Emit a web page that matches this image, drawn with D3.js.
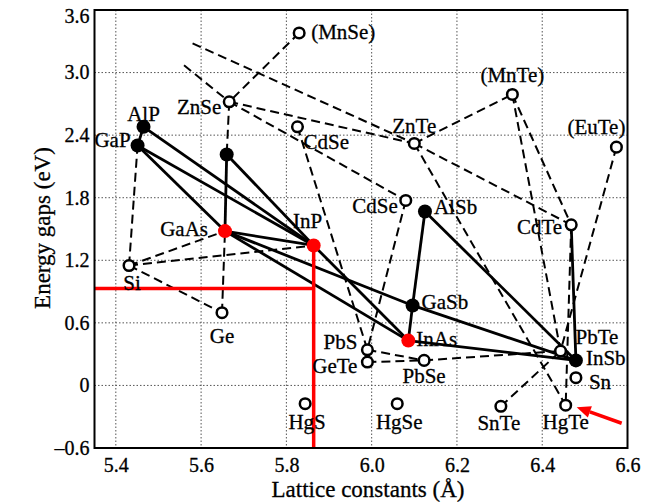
<!DOCTYPE html>
<html lang="en">
<head>
<meta charset="utf-8">
<title>Energy gaps vs lattice constants</title>
<script src="https://cdn.jsdelivr.net/npm/d3@7"></script>
<style>
  body { margin: 0; background: #fff; }
  text { font-family: "Liberation Serif", "Times New Roman", serif; fill: #000; stroke: #000; stroke-width: 0.3px; }
  .grid line { stroke: #555; stroke-width: 1; stroke-dasharray: 1.5,2; }
  .dashed { stroke: #000; stroke-width: 2; stroke-dasharray: 9,5; fill: none; }
  .solid { stroke: #000; stroke-width: 2.8; fill: none; }
  .axis text { font-size: 20px; }
  .lbl { font-size: 21px; }
  .title { font-size: 23px; }
</style>
</head>
<body>
<div class="chart"></div>
<script>
// materials: name, label shown, lattice constant (A), gap (eV), marker kind
var names   = ["MnSe","ZnSe","CdS","MnTe","ZnTe","EuTe","CdTe","AlP","GaP","AlAs","GaAs","InP","Si","Ge",
               "CdSe","AlSb","GaSb","InAs","PbS","GeTe","PbSe","PbTe","InSb","Sn","HgS","HgSe","SnTe","HgTe"];
var labels  = ["(MnSe)","ZnSe","CdSe","(MnTe)","ZnTe","(EuTe)","CdTe","AlP","GaP","","GaAs","InP","Si","Ge",
               "CdSe","AlSb","GaSb","InAs","PbS","GeTe","PbSe","PbTe","InSb","Sn","HgS","HgSe","SnTe","HgTe"];
var lattice = [5.83,5.666,5.826,6.33,6.10,6.574,6.468,5.465,5.451,5.66,5.656,5.864,5.431,5.649,
               6.08,6.125,6.096,6.086,5.99,5.99,6.123,6.443,6.479,6.479,5.844,6.06,6.303,6.455];
var gaps    = [3.38,2.72,2.48,2.79,2.32,2.285,1.54,2.48,2.30,2.215,1.48,1.342,1.15,0.697,
               1.774,1.668,0.767,0.43,0.342,0.224,0.24,0.33,0.24,0.074,-0.175,-0.175,-0.20,-0.19];
var kinds   = ["open","open","open","open","open","open","open","filled","filled","filled","red","red","open","open",
               "open","filled","filled","red","open","open","open","open","filled","open","open","open","open","open"];

// loose line ends without a marker
var looseNames = ["A0","B0"];
var looseLattice = [5.58,5.56];
var looseGaps = [3.28,3.07];

var dashedLinks = [["MnSe","ZnSe"],["A0","ZnTe"],["B0","ZnSe"],["ZnSe","CdSe"],["ZnSe","ZnTe"],
                   ["CdS","PbS"],["CdSe","PbS"],["ZnTe","CdTe"],["ZnTe","MnTe"],["MnTe","CdTe"],
                   ["MnTe","PbTe"],["EuTe","PbTe"],["CdTe","HgTe"],["ZnTe","HgTe"],["SnTe","PbTe"],
                   ["PbS","PbSe"],["GeTe","PbSe"],["PbSe","PbTe"],["Si","Ge"],["Si","GaAs"],
                   ["Si","InP"],["Si","GaP"],["Ge","GaAs"],["ZnSe","AlAs"]];
var solidLinks  = [["AlP","GaP"],["AlP","InP"],["GaP","InP"],["GaP","GaAs"],["AlAs","GaAs"],
                   ["AlAs","InP"],["InP","InAs"],["GaAs","InP"],["GaAs","InAs"],["GaAs","GaSb"],
                   ["GaSb","InSb"],["GaSb","InAs"],["AlSb","GaSb"],["AlSb","InSb"],["InAs","InSb"],
                   ["CdTe","InSb"]];

var xTicks = [5.4,5.6,5.8,6.0,6.2,6.4,6.6];
var xTickLabels = ["5.4","5.6","5.8","6.0","6.2","6.4","6.6"];
var yTicks = [-0.6,0,0.6,1.2,1.8,2.4,3.0,3.6];
var yTickLabels = ["\u20130.6","0","0.6","1.2","1.8","2.4","3.0","3.6"];
var xGrid = [5.4,5.6,5.8,6.0,6.2,6.4];
var yGrid = [0,0.6,1.2,1.8,2.4,3.0];

var guideGap = 0.93;      // red horizontal guide
var guideTo = "InP";      // red guide meets InP
var arrowTo = "HgTe";

var w = 658, h = 502;
var svg = d3.select("div.chart").append("svg").attr("width", w).attr("height", h);

var x = d3.scaleLinear().domain([5.35, 6.6]).range([94.5, 627.5]);
var y = d3.scaleLinear().domain([-0.6, 3.6]).range([448, 10]);

var pos = {};
names.forEach(function(n, i){ pos[n] = [x(lattice[i]), y(gaps[i])]; });
looseNames.forEach(function(n, i){ pos[n] = [x(looseLattice[i]), y(looseGaps[i])]; });

// grid
var grid = svg.append("g").attr("class", "grid");
grid.selectAll(".gx").data(xGrid).enter().append("line")
  .attr("x1", d => x(d)).attr("x2", d => x(d)).attr("y1", y(3.6)).attr("y2", y(-0.6));
grid.selectAll(".gy").data(yGrid).enter().append("line")
  .attr("y1", d => y(d)).attr("y2", d => y(d)).attr("x1", x(5.35)).attr("x2", x(6.6));

// axes
var xAxis = d3.axisBottom(x).tickValues(xTicks).tickSize(0).tickPadding(10)
  .tickFormat((d, i) => xTickLabels[i]);
var yAxis = d3.axisLeft(y).tickValues(yTicks).tickSize(0).tickPadding(5)
  .tickFormat((d, i) => yTickLabels[i]);
var gx = svg.append("g").attr("class", "axis").attr("transform", "translate(0," + y(-0.6) + ")").call(xAxis);
var gy = svg.append("g").attr("class", "axis").attr("transform", "translate(" + x(5.35) + ",0)").call(yAxis);
gx.select(".domain").remove();
gy.select(".domain").remove();
gx.selectAll("text").attr("font-family", null).attr("font-size", null);
gy.selectAll("text").attr("font-family", null).attr("font-size", null);
gy.selectAll(".tick").filter(d => d === 3.6).select("text").attr("dy", "0.62em");

// links
svg.append("g").selectAll("line").data(dashedLinks).enter().append("line")
  .attr("class", "dashed")
  .attr("x1", d => pos[d[0]][0]).attr("y1", d => pos[d[0]][1])
  .attr("x2", d => pos[d[1]][0]).attr("y2", d => pos[d[1]][1]);
svg.append("g").selectAll("line").data(solidLinks).enter().append("line")
  .attr("class", "solid")
  .attr("x1", d => pos[d[0]][0]).attr("y1", d => pos[d[0]][1])
  .attr("x2", d => pos[d[1]][0]).attr("y2", d => pos[d[1]][1]);

// red guides
var gp = pos[guideTo];
svg.append("line").attr("x1", x(5.35)).attr("x2", gp[0]).attr("y1", y(guideGap)).attr("y2", y(guideGap))
  .attr("stroke", "red").attr("stroke-width", 3.5);
svg.append("line").attr("x1", gp[0]).attr("x2", gp[0]).attr("y1", gp[1]).attr("y2", y(-0.6))
  .attr("stroke", "red").attr("stroke-width", 3.5);

// markers
var idx = d3.range(names.length);
svg.append("g").selectAll("circle").data(idx).enter().append("circle")
  .attr("cx", i => pos[names[i]][0]).attr("cy", i => pos[names[i]][1])
  .attr("r", i => kinds[i] === "open" ? 5.3 : 7)
  .attr("fill", i => kinds[i] === "open" ? "#fff" : (kinds[i] === "red" ? "red" : "#000"))
  .attr("stroke", i => kinds[i] === "open" ? "#000" : "none")
  .attr("stroke-width", 2.5);

// label placement: dx, dy, anchor
var place = {
  MnSe:[12,6,"start"], ZnSe:[-8,12,"end"], CdS:[6,22,"start"], MnTe:[0,-12,"middle"],
  ZnTe:[0,-10,"middle"], EuTe:[9,-13,"end"], CdTe:[-9,9,"end"], AlP:[0,-6,"middle"],
  GaP:[-7,1,"end"], GaAs:[-17,5,"end"], InP:[-6,-17,"middle"], Si:[3,24,"middle"],
  Ge:[0,30,"middle"], CdSe:[-8,13,"end"], AlSb:[9,3,"start"], GaSb:[9,4,"start"],
  InAs:[8,5,"start"], PbS:[-10,-1,"end"], GeTe:[-10,11,"end"], PbSe:[0,23,"middle"],
  PbTe:[15,-7,"start"], InSb:[10,5,"start"], Sn:[13,11,"start"], HgS:[2,25,"middle"],
  HgSe:[2,25,"middle"], SnTe:[-2,24,"middle"], HgTe:[0,24,"middle"]
};
svg.append("g").selectAll("text").data(idx.filter(i => labels[i] !== "")).enter().append("text")
  .attr("class", "lbl")
  .attr("x", i => pos[names[i]][0] + place[names[i]][0])
  .attr("y", i => pos[names[i]][1] + place[names[i]][1])
  .attr("text-anchor", i => place[names[i]][2])
  .text(i => labels[i]);

// frame
svg.append("rect").attr("x", x(5.35)).attr("y", y(3.6))
  .attr("width", x(6.6) - x(5.35)).attr("height", y(-0.6) - y(3.6))
  .attr("fill", "none").attr("stroke", "#000").attr("stroke-width", 2);

// red arrow to HgTe
var ap = pos[arrowTo];
var tail = [ap[0] + 56, ap[1] + 18], tip = [ap[0] + 11, ap[1] + 2];
var ang = Math.atan2(tip[1] - tail[1], tip[0] - tail[0]);
var hl = 14, hw = 6;
var base = [tip[0] - hl * Math.cos(ang), tip[1] - hl * Math.sin(ang)];
svg.append("line").attr("x1", tail[0]).attr("y1", tail[1]).attr("x2", base[0]).attr("y2", base[1])
  .attr("stroke", "red").attr("stroke-width", 3.5);
svg.append("polygon").attr("fill", "red")
  .attr("points", [tip, [base[0] + hw * Math.sin(ang), base[1] - hw * Math.cos(ang)],
                        [base[0] - hw * Math.sin(ang), base[1] + hw * Math.cos(ang)]].map(p => p.join(",")).join(" "));

// titles
svg.append("text").attr("class", "title").attr("x", 368).attr("y", 497)
  .attr("text-anchor", "middle").text("Lattice constants (\u00c5)");
svg.append("text").attr("class", "title").attr("transform", "translate(50,228) rotate(-90)")
  .attr("text-anchor", "middle").text("Energy gaps (eV)");
</script>
</body>
</html>
